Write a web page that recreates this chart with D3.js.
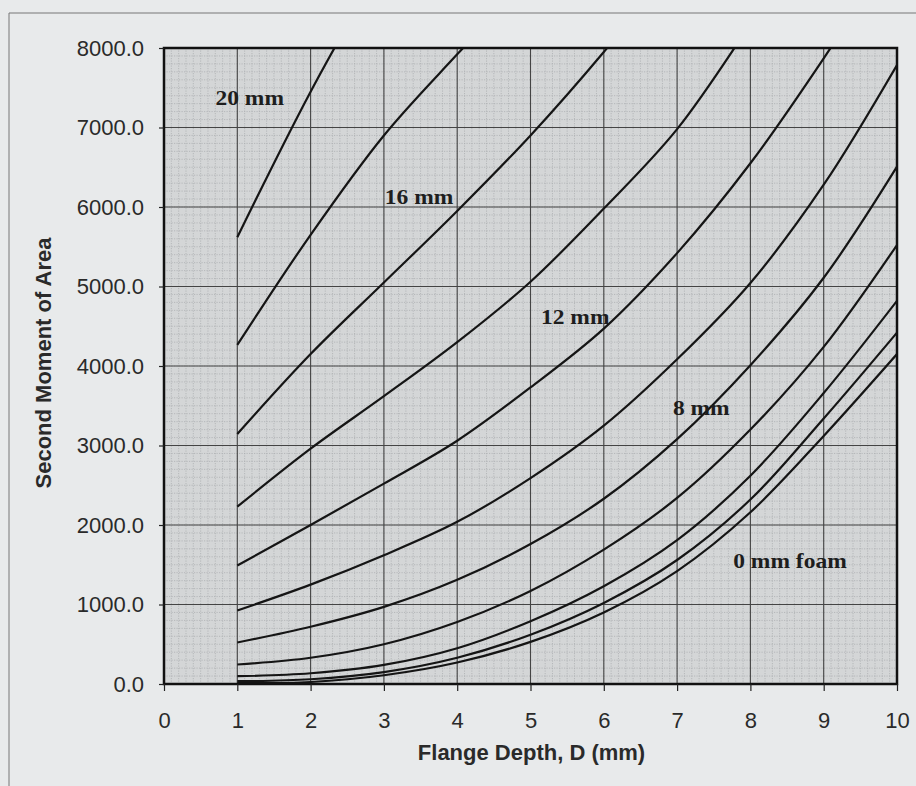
<!DOCTYPE html>
<html lang="en">
<head>
    <meta charset="UTF-8">
    <title>Second Moment of Area vs Flange Depth</title>
    <script src="https://d3js.org/d3.v7.min.js"></script>
    <style>
        body { margin: 0; background: #e8eaeb; }
        svg { display: block; }
        .tick text { font-family: "Liberation Sans", Arial, sans-serif; fill: #2a2a2a; }
        .axis-title { font-family: "Liberation Sans", Arial, sans-serif; font-weight: bold; fill: #2a2a2a; }
        .curve-label { font-family: "Liberation Serif", "Times New Roman", serif; font-weight: bold; fill: #1e1e1e; }
    </style>
</head>
<body>
    <svg width="916" height="786"></svg>
    <script>
        // Flange depth D (mm) - every curve starts at D = 1
        const depth = [1, 2, 3, 4, 5, 6, 7, 8, 9, 10];

        // Second moment of area for each foam thickness (values past 8000 run off the chart)
        const foam0  = [10, 25, 110, 270, 530, 900, 1420, 2160, 3120, 4150];
        const foam2  = [35, 60, 150, 330, 620, 1020, 1560, 2320, 3340, 4420];
        const foam4  = [98, 135, 240, 450, 790, 1230, 1810, 2620, 3660, 4820];
        const foam6  = [245, 330, 500, 780, 1170, 1690, 2340, 3200, 4240, 5522];
        const foam8  = [522, 720, 970, 1310, 1760, 2330, 3080, 4010, 5110, 6507];
        const foam10 = [925, 1250, 1620, 2040, 2590, 3250, 4085, 5045, 6280, 7786];
        const foam12 = [1490, 2000, 2520, 3060, 3730, 4470, 5420, 6550, 7870, 9300];
        const foam14 = [2230, 2960, 3620, 4300, 5060, 5980, 6980, 8300, 9700, 11200];
        const foam16 = [3145, 4150, 5050, 5950, 6900, 7950, 9100, 10300, 11600, 13000];
        const foam18 = [4265, 5650, 6900, 7920, 8900, 9900, 11000, 12100, 13300, 14600];
        const foam20 = [5620, 7450, 9100, 10700, 12300, 13900, 15500, 17100, 18700, 20300];

        const xTicks = [0, 1, 2, 3, 4, 5, 6, 7, 8, 9, 10];
        const yTicks = [0, 1000, 2000, 3000, 4000, 5000, 6000, 7000, 8000];

        // Curve labels, placed in data units [D, value]
        const labelText = ["20 mm", "16 mm", "12 mm", "8 mm", "0 mm foam"];
        const labelAt = [[1.17, 7283], [3.48, 6038], [5.61, 4528], [7.33, 3384], [8.54, 1459]];

        const series = [foam0, foam2, foam4, foam6, foam8, foam10, foam12, foam14, foam16, foam18, foam20];

        const margin = { top: 48, right: 19, bottom: 102, left: 164 };
        const width = 916 - margin.left - margin.right;
        const height = 786 - margin.top - margin.bottom;

        const root = d3.select("svg");

        // outer frame of the scanned figure
        root.append("line").attr("x1", 9).attr("x2", 916).attr("y1", 13).attr("y2", 13)
            .attr("stroke", "#777").attr("stroke-width", 1);
        root.append("line").attr("x1", 9).attr("x2", 9).attr("y1", 13).attr("y2", 786)
            .attr("stroke", "#777").attr("stroke-width", 1);

        const svg = root.append("g")
            .attr("transform", `translate(${margin.left},${margin.top})`);

        const x = d3.scaleLinear().domain([0, 10]).range([0, width]);
        const y = d3.scaleLinear().domain([0, 8000]).range([height, 0]);

        svg.append("clipPath").attr("id", "plot-clip")
            .append("rect").attr("width", width).attr("height", height);

        // plot background
        svg.append("rect")
            .attr("width", width)
            .attr("height", height)
            .attr("fill", "#d4d6d7");

        // fine dotted grid (the graph-paper texture)
        const minorX = d3.range(0, 10.001, 0.1);
        const minorY = d3.range(0, 8000.1, 100);
        svg.append("g").selectAll("line")
            .data(minorX).enter().append("line")
            .attr("x1", d => x(d)).attr("x2", d => x(d))
            .attr("y1", 0).attr("y2", height)
            .attr("stroke", "#adb0b2").attr("stroke-width", 0.8)
            .attr("stroke-dasharray", "1.2,1.3");
        svg.append("g").selectAll("line")
            .data(minorY).enter().append("line")
            .attr("x1", 0).attr("x2", width)
            .attr("y1", d => y(d)).attr("y2", d => y(d))
            .attr("stroke", "#adb0b2").attr("stroke-width", 0.8)
            .attr("stroke-dasharray", "1.2,1.3");

        // major grid
        svg.append("g").selectAll("line")
            .data(xTicks.slice(1, -1)).enter().append("line")
            .attr("x1", d => x(d)).attr("x2", d => x(d))
            .attr("y1", 0).attr("y2", height)
            .attr("stroke", "#444").attr("stroke-width", 1.1);
        svg.append("g").selectAll("line")
            .data(yTicks.slice(1, -1)).enter().append("line")
            .attr("x1", 0).attr("x2", width)
            .attr("y1", d => y(d)).attr("y2", d => y(d))
            .attr("stroke", "#444").attr("stroke-width", 1.1);

        // curves
        const line = d3.line()
            .x((d, i) => x(depth[i]))
            .y(d => y(d))
            .curve(d3.curveCatmullRom.alpha(0.5));

        svg.append("g")
            .attr("clip-path", "url(#plot-clip)")
            .selectAll("path")
            .data(series).enter().append("path")
            .attr("d", d => line(d))
            .attr("fill", "none")
            .attr("stroke", "#151515")
            .attr("stroke-width", 2.2);

        // plot border
        svg.append("rect")
            .attr("width", width)
            .attr("height", height)
            .attr("fill", "none")
            .attr("stroke", "#111")
            .attr("stroke-width", 2.5);

        // axes
        const xAxis = d3.axisBottom(x).tickValues(xTicks).tickFormat(d3.format("d"))
            .tickSize(7).tickPadding(21);
        const yAxis = d3.axisLeft(y).tickValues(yTicks).tickFormat(d3.format(".1f"))
            .tickSize(5).tickPadding(15);

        const gx = svg.append("g")
            .attr("transform", `translate(0,${height})`)
            .call(xAxis);
        const gy = svg.append("g").call(yAxis);

        [gx, gy].forEach(g => {
            g.select(".domain").remove();
            g.selectAll(".tick line").attr("stroke", "#222").attr("stroke-width", 1.2);
            g.selectAll(".tick text").attr("font-size", 22);
        });

        // axis titles
        svg.append("text")
            .attr("class", "axis-title")
            .attr("x", width / 2 + 1)
            .attr("y", height + 76)
            .attr("text-anchor", "middle")
            .attr("font-size", 22)
            .text("Flange Depth, D (mm)");

        svg.append("text")
            .attr("class", "axis-title")
            .attr("transform", `translate(${51 - margin.left},${height / 2 - 3}) rotate(-90)`)
            .attr("text-anchor", "middle")
            .attr("font-size", 22)
            .text("Second Moment of Area");

        // curve labels
        svg.append("g").selectAll("text")
            .data(labelText).enter().append("text")
            .attr("class", "curve-label")
            .attr("transform", (d, i) => `translate(${x(labelAt[i][0])},${y(labelAt[i][1])}) scale(1.12,1)`)
            .attr("text-anchor", "middle")
            .attr("font-size", 21)
            .text(d => d);
    </script>
</body>
</html>
